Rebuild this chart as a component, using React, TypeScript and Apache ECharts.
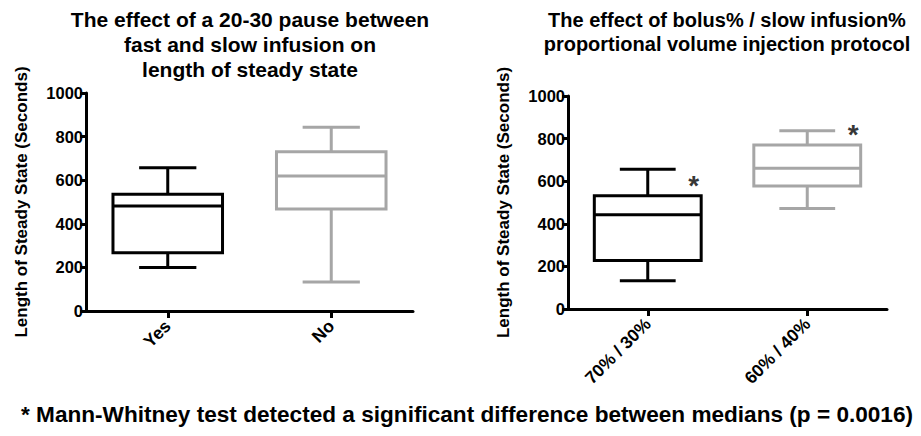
import React, { useEffect, useRef } from "react";
import * as echarts from "echarts";

// Left panel: pause between fast and slow infusion
const leftCategories = ["Yes", "No"];
const leftMin = [199, 133];
const leftQ1 = [267, 468];
const leftMedian = [482, 619];
const leftQ3 = [535, 731];
const leftMax = [657, 843];

// Right panel: bolus% / slow infusion%
const rightCategories = ["70% / 30%", "60% / 40%"];
const rightMin = [133, 472];
const rightQ1 = [228, 578];
const rightMedian = [443, 661];
const rightQ3 = [532, 770];
const rightMax = [656, 837];
const significanceHeights = [598, 836];

const yMin = 0;
const yMax = 1000;
const yInterval = 200;

const boxColors = ["#000000", "#a6a6a6"];
const FONT = '"Liberation Sans", Arial, Helvetica, sans-serif';

const leftTitle = "The effect of a 20-30 pause between\nfast and slow infusion on\nlength of steady state";
const rightTitle = "The effect of bolus% / slow infusion%\nproportional volume injection protocol";
const footnote = "* Mann-Whitney test detected a significant difference between medians (p = 0.0016)";
const yName = "Length of Steady State (Seconds)";

function renderBox(params: any, api: any) {
  const idx = api.value(0);
  const lo = api.coord([idx, api.value(1)]);
  const q1 = api.coord([idx, api.value(2)]);
  const med = api.coord([idx, api.value(3)]);
  const q3 = api.coord([idx, api.value(4)]);
  const hi = api.coord([idx, api.value(5)]);
  const band = api.size([1, 0])[0];
  const bw = band * 0.67;
  const cw = band * 0.35;
  const cx = med[0];
  const color = boxColors[params.dataIndex % boxColors.length];
  const st = { stroke: color, lineWidth: 3, fill: "transparent" };
  return {
    type: "group",
    children: [
      { type: "rect", shape: { x: cx - bw / 2, y: q3[1], width: bw, height: q1[1] - q3[1] }, style: st },
      { type: "line", shape: { x1: cx - bw / 2, y1: med[1], x2: cx + bw / 2, y2: med[1] }, style: st },
      { type: "line", shape: { x1: cx, y1: q3[1], x2: cx, y2: hi[1] }, style: st },
      { type: "line", shape: { x1: cx, y1: q1[1], x2: cx, y2: lo[1] }, style: st },
      { type: "line", shape: { x1: cx - cw / 2, y1: hi[1], x2: cx + cw / 2, y2: hi[1] }, style: st },
      { type: "line", shape: { x1: cx - cw / 2, y1: lo[1], x2: cx + cw / 2, y2: lo[1] }, style: st },
    ],
  };
}

function yAxis(gridIndex: number) {
  return {
    type: "value",
    gridIndex,
    min: yMin,
    max: yMax,
    interval: yInterval,
    axisLine: { show: true, lineStyle: { color: "#000", width: 3 } },
    axisTick: { show: true, length: 6, lineStyle: { color: "#000", width: 3 } },
    axisLabel: {
      fontSize: 16.5,
      fontWeight: "bold",
      color: "#000",
      margin: 3,
      fontFamily: FONT,
      formatter: (v: number) => String(v),
    },
    splitLine: { show: false },
    name: yName,
    nameLocation: "middle",
    nameGap: 56,
    nameTextStyle: { fontSize: 17, fontWeight: "bold", color: "#000", fontFamily: FONT },
  };
}

function xAxis(gridIndex: number, data: string[]) {
  return {
    type: "category",
    gridIndex,
    data,
    boundaryGap: true,
    axisLine: { show: true, lineStyle: { color: "#000", width: 3 } },
    axisTick: { show: true, alignWithLabel: true, length: 7, lineStyle: { color: "#000", width: 3 } },
    axisLabel: { rotate: 45, interval: 0, fontSize: 17.5, fontWeight: "bold", color: "#000", margin: 12, fontFamily: FONT },
    splitLine: { show: false },
  };
}

export default function App() {
  const ref = useRef<HTMLDivElement>(null);
  useEffect(() => {
    document.body.style.margin = "0";
    if (!ref.current) return;
    const chart = echarts.init(ref.current, undefined, { renderer: "svg" });
    const leftData = leftCategories.map((_, i) => [i, leftMin[i], leftQ1[i], leftMedian[i], leftQ3[i], leftMax[i]]);
    const rightData = rightCategories.map((_, i) => [i, rightMin[i], rightQ1[i], rightMedian[i], rightQ3[i], rightMax[i]]);
    chart.setOption({
      animation: false,
      backgroundColor: "#fff",
      grid: [
        { left: 86, top: 93, width: 327, height: 218 },
        { left: 568, top: 96, width: 319, height: 213 },
      ],
      xAxis: [xAxis(0, leftCategories), xAxis(1, rightCategories)],
      yAxis: [yAxis(0), yAxis(1)],
      series: [
        { type: "custom", xAxisIndex: 0, yAxisIndex: 0, data: leftData, encode: { x: 0, y: [1, 5] }, renderItem: renderBox },
        { type: "custom", xAxisIndex: 1, yAxisIndex: 1, data: rightData, encode: { x: 0, y: [1, 5] }, renderItem: renderBox },
        {
          type: "scatter",
          xAxisIndex: 1,
          yAxisIndex: 1,
          symbolSize: 0,
          data: significanceHeights.map((v, i) => [i, v]),
          label: {
            show: true,
            formatter: "*",
            position: "inside",
            offset: [46, 4],
            fontSize: 28,
            fontWeight: "bold",
            color: "#000",
            fontFamily: FONT,
          },
        },
      ],
      graphic: [
        {
          type: "text",
          x: 250,
          y: 7,
          style: { text: leftTitle, align: "center", verticalAlign: "top", fontSize: 21, fontWeight: "bold", lineHeight: 25, fill: "#000", fontFamily: FONT },
        },
        {
          type: "text",
          x: 727,
          y: 8,
          style: { text: rightTitle, align: "center", verticalAlign: "top", fontSize: 20, fontWeight: "bold", lineHeight: 24, fill: "#000", fontFamily: FONT },
        },
        {
          type: "text",
          x: 467,
          y: 414,
          style: { text: footnote, align: "center", verticalAlign: "middle", fontSize: 22.6, fontWeight: "bold", fill: "#000", fontFamily: FONT },
        },
      ],
    });
    return () => chart.dispose();
  }, []);
  return <div ref={ref} style={{ width: 921, height: 436 }} />;
}
